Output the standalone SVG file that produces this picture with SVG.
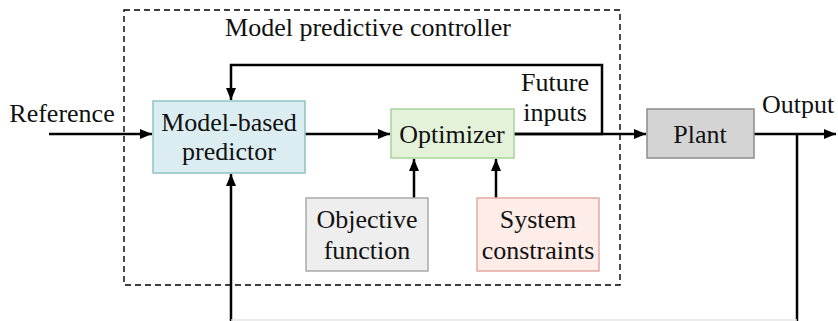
<svg xmlns="http://www.w3.org/2000/svg" width="838" height="321" viewBox="0 0 838 321">
<style>
text{font-family:'Liberation Serif','DejaVu Serif',serif;font-size:26px;fill:#111;text-anchor:middle}
.ln{fill:none;stroke:#000;stroke-width:2.5}
.box{stroke-width:1.5}
</style>
<defs>
<marker id="ah" viewBox="0 0 12 10" refX="12" refY="5" markerWidth="12" markerHeight="10" markerUnits="userSpaceOnUse" orient="auto">
<path d="M0,0 L12,5 L0,10 Z" fill="#000"/>
</marker>
</defs>
<rect width="838" height="321" fill="#fff"/>
<g id="mpc">
<rect x="124" y="10" width="496" height="275" fill="none" stroke="#000" stroke-width="1.4" stroke-dasharray="6,4"/>
<text x="368" y="36">Model predictive controller</text>
</g>
<g id="connectors">
<line class="ln" x1="49" y1="134" x2="152" y2="134" marker-end="url(#ah)"/>
<line class="ln" x1="305" y1="134" x2="390" y2="134" marker-end="url(#ah)"/>
<polyline class="ln" points="514,134 602,134 602,65 231,65 231,100" marker-end="url(#ah)"/>
<line class="ln" x1="514" y1="134" x2="646" y2="134" marker-end="url(#ah)"/>
<line class="ln" x1="754" y1="134" x2="836" y2="134" marker-end="url(#ah)"/>
<line class="ln" x1="414" y1="198" x2="414" y2="159" marker-end="url(#ah)"/>
<line class="ln" x1="496" y1="198" x2="496" y2="159" marker-end="url(#ah)"/>
<polyline class="ln" points="797,134 797,321"/>
<polyline class="ln" points="231,321 231,174" marker-end="url(#ah)"/>
<line x1="231" y1="320" x2="797" y2="320" stroke="#e6e6e6" stroke-width="1.5"/>
</g>
<g id="reference"><text x="62" y="122">Reference</text></g>
<g id="predictor">
<rect class="box" x="153" y="101" width="152" height="72" fill="#dcedf2" stroke="#8ec2c6"/>
<text x="229" y="131">Model-based</text>
<text x="229" y="160">predictor</text>
</g>
<g id="optimizer">
<rect class="box" x="391" y="109" width="123" height="49" fill="#e3f2d9" stroke="#a9d39a"/>
<text x="452" y="143">Optimizer</text>
</g>
<g id="future"><text x="555" y="91">Future</text><text x="555" y="121">inputs</text></g>
<g id="plant">
<rect class="box" x="647" y="109" width="107" height="49" fill="#d4d4d4" stroke="#8c8c8c"/>
<text x="700" y="143">Plant</text>
</g>
<g id="output"><text x="798" y="113">Output</text></g>
<g id="objective">
<rect class="box" x="306" y="198" width="122" height="73" fill="#eeeeee" stroke="#aaaaaa"/>
<text x="367" y="228">Objective</text>
<text x="367" y="259">function</text>
</g>
<g id="constraints">
<rect class="box" x="477" y="198" width="122" height="73" fill="#fdece8" stroke="#e2aaa4"/>
<text x="538" y="228">System</text>
<text x="538" y="259">constraints</text>
</g>
</svg>
